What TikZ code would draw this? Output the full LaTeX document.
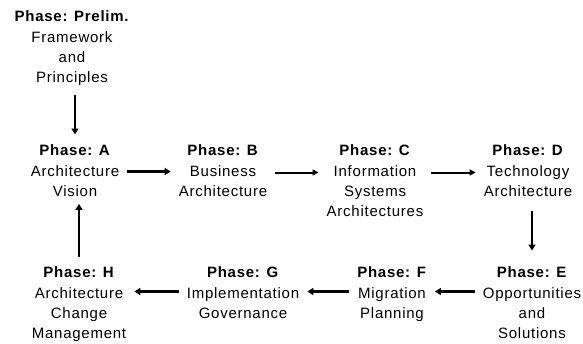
\documentclass[tikz,border=0pt]{standalone}
\usepackage{fontspec}
\setmainfont{Liberation Sans}[LetterSpace=5]
\usetikzlibrary{arrows.meta}

\begin{document}
\begin{tikzpicture}[x=1pt,y=-1pt,
    phase/.style={align=center,anchor=north,inner xsep=8pt,inner ysep=10pt,
      font=\fontsize{15}{20}\selectfont},
    flow/.style={line width=2.6pt,-{Triangle[length=6pt,width=7pt]}},
    thinflow/.style={line width=2pt,-{Triangle[length=6pt,width=6pt]}}]
    \useasboundingbox (0,0) rectangle (583,343);
    % top row
    \node[phase] (prelim) at (72,0) {\textbf{Phase: Prelim.}\\[1pt]Framework\\and\\Principles};
    \node[phase] (A) at (75,134.5) {\textbf{Phase: A}\\[1pt]Architecture\\Vision};
    \node[phase] (B) at (223,134.5) {\textbf{Phase: B}\\[1pt]Business\\Architecture};
    \node[phase] (C) at (375,134.5) {\textbf{Phase: C}\\[1pt]Information\\Systems\\Architectures};
    \node[phase] (D) at (528,134.5) {\textbf{Phase: D}\\[1pt]Technology\\Architecture};
    % bottom row
    \node[phase] (E) at (532,256.5) {\textbf{Phase: E}\\[1pt]Opportunities\\and\\Solutions};
    \node[phase] (F) at (392,256.5) {\textbf{Phase: F}\\[1pt]Migration\\Planning};
    \node[phase] (G) at (243,256.5) {\textbf{Phase: G}\\[1pt]Implementation\\Governance};
    \node[phase] (H) at (79,256.5) {\textbf{Phase: H}\\[1pt]Architecture\\Change\\Management};
    % arrows
    \draw[flow] (prelim.south -| A.north) -- (A.north);
    \draw[flow] ([yshift=-37pt]A.north east) -- ([yshift=-37pt]B.north west);
    \draw[thinflow] ([yshift=-38pt]B.north east) -- ([yshift=-38pt]C.north west);
    \draw[thinflow] ([yshift=-38pt]C.north east) -- ([yshift=-38pt]D.north west);
    \draw[flow,shorten <=4pt,shorten >=6pt] (D.south -| E.north) -- (E.north);
    \draw[flow] ([yshift=-35pt]E.north west) -- ([yshift=-35pt]F.north east);
    \draw[flow] ([yshift=-35pt]F.north west) -- ([yshift=-35pt]G.north east);
    \draw[flow] ([yshift=-35pt]G.north west) -- ([yshift=-35pt]H.north east);
    \draw[flow,shorten >=-3pt] (H.north) -- (H.north |- A.south);
\end{tikzpicture}
\end{document}
